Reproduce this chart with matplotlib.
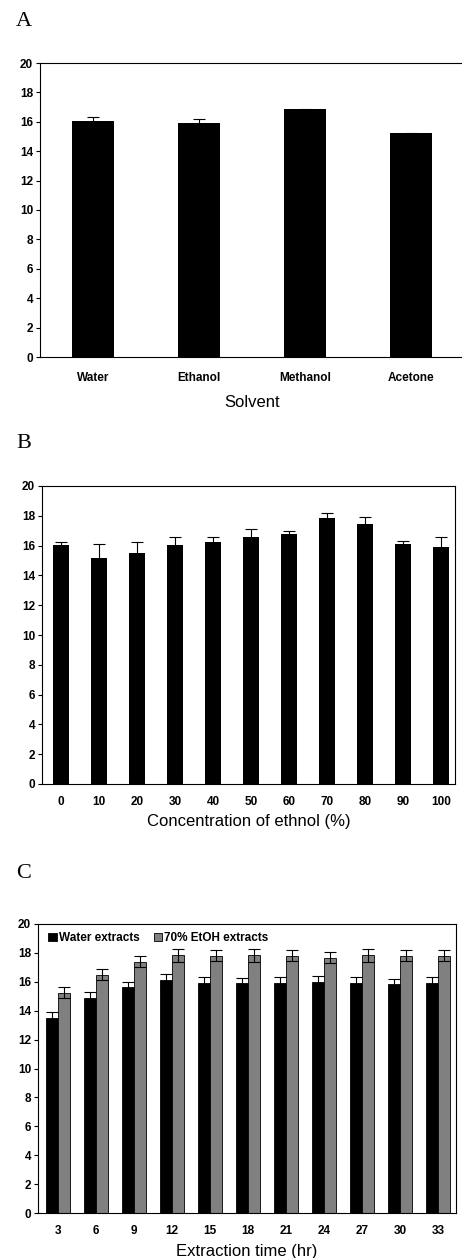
import matplotlib
matplotlib.use("Agg")
import matplotlib.pyplot as plt
import numpy as np

# ── data ─────────────────────────────────────────────────────────────────────

solvents = ["Water", "Ethanol", "Methanol", "Acetone"]
solvent_vals = [16.05, 15.9, 16.85, 15.22]
solvent_err = [0.3, 0.3, 0.04, 0.04]

ethanol_conc = ["0", "10", "20", "30", "40", "50", "60", "70", "80", "90", "100"]
conc_vals = [16.07, 15.2, 15.53, 16.04, 16.22, 16.55, 16.8, 17.88, 17.45, 16.08, 15.9]
conc_err = [0.2, 0.9, 0.7, 0.56, 0.38, 0.58, 0.2, 0.34, 0.45, 0.2, 0.7]

extract_hours = ["3", "6", "9", "12", "15", "18", "21", "24", "27", "30", "33"]
water_vals = [13.5, 14.9, 15.65, 16.12, 15.9, 15.9, 15.9, 16.0, 15.9, 15.82, 15.9]
water_err = [0.4, 0.37, 0.35, 0.4, 0.43, 0.35, 0.43, 0.42, 0.43, 0.35, 0.43]
etoh_vals = [15.25, 16.5, 17.4, 17.85, 17.8, 17.85, 17.8, 17.65, 17.85, 17.8, 17.8]
etoh_err = [0.4, 0.4, 0.4, 0.45, 0.37, 0.45, 0.37, 0.38, 0.45, 0.37, 0.37]

# ── layout helpers ───────────────────────────────────────────────────────────

W, H = 462, 1258
SANS = ["Liberation Sans", "DejaVu Sans"]
SERIF = ["Liberation Serif", "DejaVu Serif"]


def px_axes(fig, left, right, top, bottom):
    return fig.add_axes([left / W, 1 - bottom / H, (right - left) / W, (bottom - top) / H])


def style_axes(ax, xlabel, xpad, labelpad, show_right=True):
    ax.set_ylim(0, 20)
    ax.set_yticks(np.arange(0, 21, 2))
    ax.tick_params(axis="y", direction="out", length=3, width=0.8, pad=2)
    ax.tick_params(axis="x", length=0, pad=xpad)
    for lab in ax.get_xticklabels() + ax.get_yticklabels():
        lab.set_family(SANS)
        lab.set_fontweight("bold")
        lab.set_fontsize(8.5)
    for sp in ax.spines.values():
        sp.set_linewidth(0.8)
    ax.spines["right"].set_visible(show_right)
    ax.set_xlabel(xlabel, family=SANS, fontsize=12, labelpad=labelpad)


def panel_letter(fig, letter, y):
    fig.text(16 / W, 1 - y / H, letter, family=SERIF, fontsize=16, ha="left", va="baseline")


fig = plt.figure(figsize=(W / 100, H / 100), dpi=100)

# ── A: solvent ───────────────────────────────────────────────────────────────
ax_a = px_axes(fig, 40, 464, 63, 357)
x = np.arange(len(solvents))
ax_a.bar(x, solvent_vals, width=0.4, color="black", zorder=2)
ax_a.errorbar(x, solvent_vals, yerr=solvent_err, fmt="none", ecolor="black",
              elinewidth=0.8, capsize=4, capthick=0.8, zorder=3)
ax_a.set_xlim(-0.5, 3.5)
ax_a.set_xticks(x)
ax_a.set_xticklabels(solvents)
style_axes(ax_a, "Solvent", xpad=11, labelpad=8, show_right=False)
panel_letter(fig, "A", 26)

# ── B: ethanol concentration ─────────────────────────────────────────────────
ax_b = px_axes(fig, 42, 455, 486, 784)
x = np.arange(len(ethanol_conc))
ax_b.bar(x, conc_vals, width=0.42, color="black", zorder=2)
ax_b.errorbar(x, conc_vals, yerr=conc_err, fmt="none", ecolor="black",
              elinewidth=0.8, capsize=4.5, capthick=0.8, zorder=3)
ax_b.set_xlim(-0.5, 10.37)
ax_b.set_xticks(x)
ax_b.set_xticklabels(ethanol_conc)
style_axes(ax_b, "Concentration of ethnol (%)", xpad=8.5, labelpad=4.5)
panel_letter(fig, "B", 448)

# ── C: extraction time ───────────────────────────────────────────────────────
ax_c = px_axes(fig, 38, 456, 924, 1213)
x = np.arange(len(extract_hours))
bw = 0.31
ax_c.bar(x - bw / 2, water_vals, width=bw, color="black", edgecolor="black",
         linewidth=0.6, label="Water extracts", zorder=2)
ax_c.bar(x + bw / 2, etoh_vals, width=bw, color="#808080", edgecolor="black",
         linewidth=0.6, label="70% EtOH extracts", zorder=2)
ax_c.errorbar(x - bw / 2, water_vals, yerr=water_err, fmt="none", ecolor="black",
              elinewidth=0.8, capsize=4, capthick=0.8, zorder=3)
ax_c.errorbar(x + bw / 2, etoh_vals, yerr=etoh_err, fmt="none", ecolor="black",
              elinewidth=0.8, capsize=4, capthick=0.8, zorder=3)
ax_c.set_xlim(-0.526, 10.47)
ax_c.set_xticks(x)
ax_c.set_xticklabels(extract_hours)
style_axes(ax_c, "Extraction time (hr)", xpad=9, labelpad=4.5)
leg = ax_c.legend(loc="center left", bbox_to_anchor=(10 / 418, 1 - 14 / 289),
                  ncol=2, frameon=False, borderpad=0, borderaxespad=0,
                  handlelength=0.75, handleheight=0.75, handletextpad=0.15,
                  columnspacing=1.2, prop={"family": SANS, "weight": "bold", "size": 8.5})
panel_letter(fig, "C", 878)

fig.savefig("out.png", dpi=100)
